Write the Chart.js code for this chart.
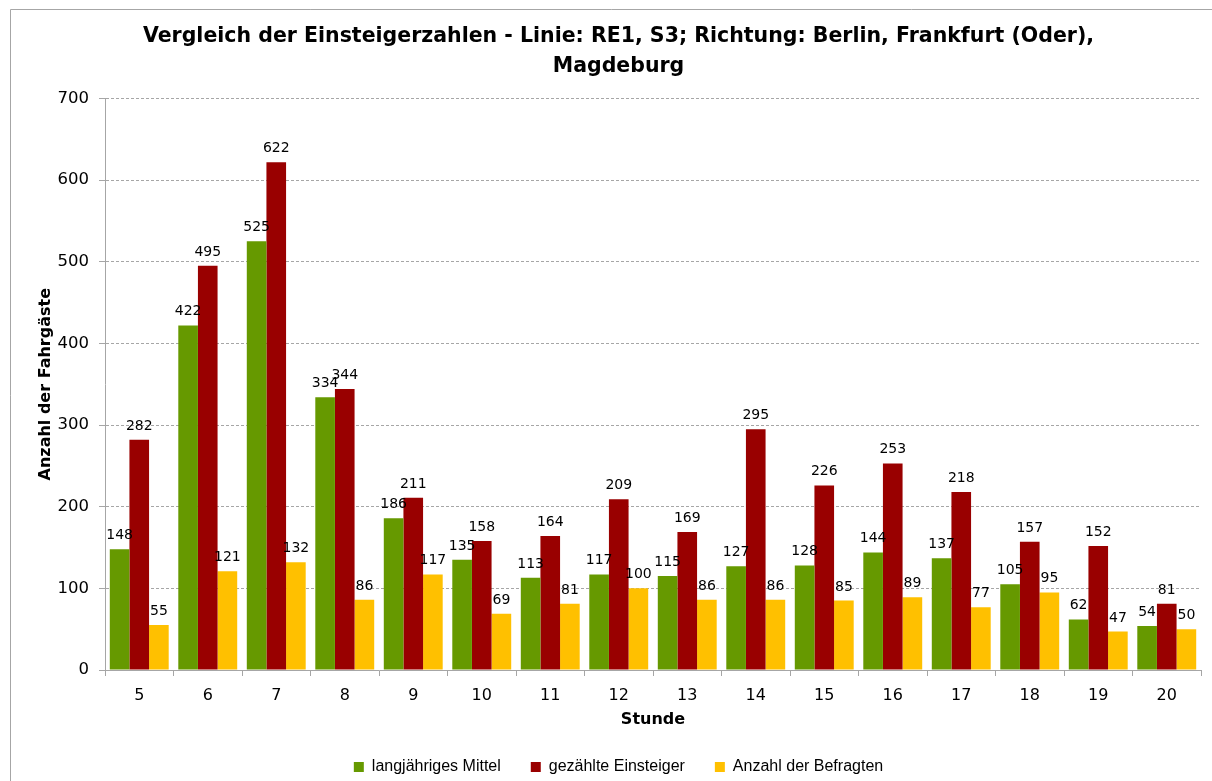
<!DOCTYPE html>
<html>
<head>
<meta charset="utf-8">
<script src="https://cdn.jsdelivr.net/npm/chart.js@4.4.1/dist/chart.umd.min.js"></script>
<style>
  body { margin: 0; background: #fff; }
  #wrap { width: 1212px; height: 781px; position: relative; }
</style>
</head>
<body>
<div id="wrap"><canvas id="einsteiger" width="1212" height="781"></canvas></div>
<script>
'use strict';
var stunden = ['5','6','7','8','9','10','11','12','13','14','15','16','17','18','19','20'];
var mittel = [148, 422, 525, 334, 186, 135, 113, 117, 115, 127, 128, 144, 137, 105, 62, 54];
var gezaehlt = [282, 495, 622, 344, 211, 158, 164, 209, 169, 295, 226, 253, 218, 157, 152, 81];
var befragt = [55, 121, 132, 86, 117, 69, 81, 100, 86, 86, 85, 89, 77, 95, 47, 50];

var FONT = 'Tahoma, "DejaVu Sans", sans-serif';

// grauer Rahmen wie im Original
var rahmen = {
    id: 'rahmen',
    beforeDraw: function(chart){
        var ctx = chart.ctx;
        ctx.save();
        ctx.strokeStyle = '#a6a6a6';
        ctx.lineWidth = 1;
        ctx.beginPath();
        ctx.moveTo(10.5, 781);
        ctx.lineTo(10.5, 9.5);
        ctx.lineTo(1212, 9.5);
        ctx.stroke();
        ctx.restore();
    }
};

// Werte ueber den Saeulen
var werte = {
    id: 'werte',
    afterDatasetsDraw: function(chart){
        var ctx = chart.ctx;
        ctx.save();
        ctx.font = '14px ' + FONT;
        ctx.fillStyle = '#000';
        ctx.textAlign = 'center';
        ctx.textBaseline = 'alphabetic';
        chart.data.datasets.forEach(function(ds, i){
            chart.getDatasetMeta(i).data.forEach(function(bar, j){
                ctx.fillText(ds.data[j], bar.x, bar.y - 10);
            });
        });
        ctx.restore();
    }
};

var ctx = document.getElementById('einsteiger').getContext('2d');
var chart = new Chart(ctx, {
    type: 'bar',
    data: {
        labels: stunden,
        datasets: [
            { label: 'langjähriges Mittel', data: mittel, backgroundColor: '#669900' },
            { label: 'gezählte Einsteiger', data: gezaehlt, backgroundColor: '#990000' },
            { label: 'Anzahl der Befragten', data: befragt, backgroundColor: '#ffc000' }
        ]
    },
    options: {
        responsive: false,
        animation: false,
        devicePixelRatio: 1,
        layout: { padding: { left: 36, right: 11, top: 0, bottom: -4 } },
        datasets: { bar: { categoryPercentage: 0.86, barPercentage: 1.0 } },
        plugins: {
            title: {
                display: true,
                text: ['Vergleich der Einsteigerzahlen - Linie: RE1, S3; Richtung: Berlin, Frankfurt (Oder),', 'Magdeburg'],
                color: '#000',
                font: { family: FONT, size: 20.5, weight: 'bold', lineHeight: 1.45 },
                padding: { top: 22, bottom: 17 }
            },
            legend: {
                position: 'bottom',
                labels: {
                    color: '#000',
                    boxWidth: 10,
                    boxHeight: 10,
                    padding: 30,
                    font: { family: '"Liberation Sans Narrow", "Arial Narrow", "Liberation Sans", sans-serif', size: 16 }
                }
            },
            tooltip: { enabled: false }
        },
        scales: {
            x: {
                grid: { display: true, drawOnChartArea: false, color: '#a6a6a6', tickLength: 6, offset: true },
                border: { color: '#a6a6a6' },
                ticks: { color: '#000', font: { family: FONT, size: 16 }, padding: 10 },
                title: { display: true, text: 'Stunde', color: '#000', font: { family: FONT, size: 16, weight: 'bold' }, padding: { top: 1, bottom: 0 } },
                afterFit: function(scale){ scale.height = 59; }
            },
            y: {
                min: 0,
                max: 700,
                ticks: { stepSize: 100, color: '#000', font: { family: FONT, size: 16.5 }, padding: 10 },
                grid: { color: '#a6a6a6', tickLength: 6, tickColor: '#a6a6a6' },
                border: { color: '#a6a6a6', dash: [3, 2] },
                title: { display: true, text: 'Anzahl der Fahrgäste', color: '#000', font: { family: FONT, size: 16, weight: 'bold' }, padding: { top: 0, bottom: 8 } },
                afterFit: function(scale){ scale.width = 69; }
            }
        }
    },
    plugins: [rahmen, werte]
});
</script>
</body>
</html>
